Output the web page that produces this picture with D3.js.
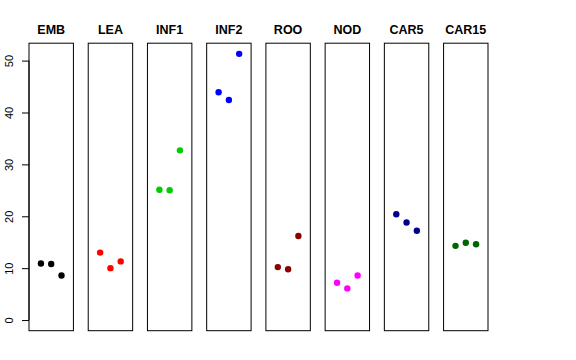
<!DOCTYPE html>
<html>
<head>
<meta charset="utf-8">
<script src="https://cdn.jsdelivr.net/npm/d3@7"></script>
<style>
  body { margin: 0; background: #fff; }
  svg { display: block; font-family: "Liberation Sans", Arial, sans-serif; }
</style>
</head>
<body>
<div id="chart"></div>
<script>
// groups, one panel each
var groups = ["EMB", "LEA", "INF1", "INF2", "ROO", "NOD", "CAR5", "CAR15"];
var colors = ["#000000", "#FF0000", "#00CD00", "#0000FF", "#8B0000", "#FF00FF", "#00008B", "#006400"];
// three replicates per group
var rep1 = [10.9, 13.0, 25.1, 43.9, 10.2, 7.2, 20.4, 14.3];
var rep2 = [10.8, 10.0, 25.0, 42.4, 9.8, 6.1, 18.8, 14.9];
var rep3 = [8.6, 11.3, 32.7, 51.3, 16.2, 8.6, 17.2, 14.6];
var yTicks = [0, 10, 20, 30, 40, 50];

var W = 576, H = 360;

var svg = d3.select("#chart")
    .append("svg")
    .attr("width", W)
    .attr("height", H);

var data = groups.map(function(g, i) {
  return { group: g, color: colors[i], values: [rep1[i], rep2[i], rep3[i]] };
});

var ymax = d3.max(data, function(d) { return d3.max(d.values); });
var pad = ymax * 0.04;

var panel = d3.scaleBand()
    .domain(groups)
    .range([29, 488])
    .paddingInner(0.25)
    .paddingOuter(0);

var y = d3.scaleLinear()
    .domain([-pad, ymax + pad])
    .range([330.7, 43.2]);

var x = d3.scaleLinear()
    .domain([-0.16, 4.16])
    .range([0, panel.bandwidth()]);

var panels = svg.selectAll("g.panel")
    .data(data)
  .enter().append("g")
    .attr("class", "panel")
    .attr("transform", function(d) { return "translate(" + panel(d.group) + ",0)"; });

panels.append("rect")
    .attr("x", 0)
    .attr("y", y.range()[1])
    .attr("width", panel.bandwidth())
    .attr("height", y.range()[0] - y.range()[1])
    .style("fill", "none")
    .style("stroke", "#000")
    .style("stroke-width", 1);

panels.append("text")
    .attr("x", panel.bandwidth() / 2)
    .attr("y", 34)
    .style("text-anchor", "middle")
    .style("font-weight", "bold")
    .style("font-size", "12.5px")
    .text(function(d) { return d.group; });

panels.selectAll("circle")
    .data(function(d) { return d.values.map(function(v, j) { return { v: v, j: j + 1, color: d.color }; }); })
  .enter().append("circle")
    .attr("cx", function(d) { return x(d.j); })
    .attr("cy", function(d) { return y(d.v); })
    .attr("r", 3.2)
    .style("fill", function(d) { return d.color; });

// y axis on the first panel only
var yAxis = d3.axisLeft(y)
    .tickValues(yTicks)
    .tickSize(7)
    .tickPadding(4);

var ax = svg.append("g")
    .attr("class", "y axis")
    .attr("transform", "translate(" + panel(groups[0]) + ",0)")
    .call(yAxis);

ax.select(".domain")
    .attr("d", "M0," + y(yTicks[0]) + "V" + y(yTicks[yTicks.length - 1]));

ax.selectAll("text")
    .style("font-size", "11px")
    .style("font-family", "Liberation Sans, Arial, sans-serif")
    .style("text-anchor", "middle")
    .attr("x", 0)
    .attr("y", 0)
    .attr("dy", 0)
    .attr("transform", "translate(-16,0) rotate(-90)");
</script>
</body>
</html>
